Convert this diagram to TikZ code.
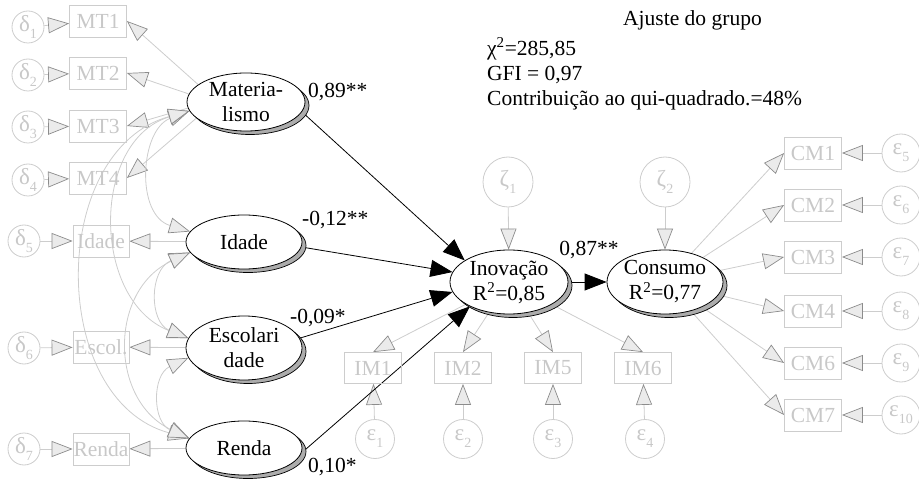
\documentclass[tikz,border=0pt]{standalone}
\usepackage{fontspec}
\setmainfont{Liberation Serif}
\usetikzlibrary{arrows.meta,shapes.geometric,shadows,backgrounds}
\definecolor{lg}{HTML}{CDCDCD}
\definecolor{lgt}{HTML}{C8C8C8}
\definecolor{afill}{HTML}{EBEBEB}
\definecolor{abord}{HTML}{8C8C8C}
\newcommand\grk[2]{#1\raisebox{-0.3em}{\fontsize{14}{14}\selectfont #2}}
\begin{document}
\begin{tikzpicture}[x=1pt,y=-1pt,
  every node/.style={font=\fontsize{21.5}{25}\selectfont},
  GT/.tip={Triangle[length=21pt,width=16pt,fill=afill,color=abord,line width=0.7pt]},
  BT/.tip={Triangle[length=22pt,width=17pt]},
  obs/.style={draw=lg,line width=0.8pt,rectangle,minimum width=57pt,minimum height=32pt,inner sep=0pt,text=lgt},
  err/.style={draw=lg,line width=0.8pt,circle,minimum size=#1,inner sep=0pt,text=lgt,font=\fontsize{23}{23}\selectfont},
  lat/.style 2 args={ellipse,draw=black,line width=0.8pt,fill=white,minimum width=#1,minimum height=#2,inner sep=0pt,
     drop shadow={shadow xshift=4pt,shadow yshift=-3.5pt,fill=gray!65,draw=black,opacity=1,line width=0.7pt}},
  lbl/.style={align=center,text=black},
  coef/.style={text=black,inner sep=0pt},
  gline/.style={draw=lg,line width=0.8pt},
  bline/.style={draw=black,line width=0.8pt},
]
\useasboundingbox (0,0) rectangle (919,489);

% latent variables
\node[lat={118pt}{58pt},label={[lbl]center:{Materia-\\lismo}}] (mat) at (246,102) {};
\node[lat={116pt}{54pt},label={[lbl]center:{Idade}}] (idade) at (244,242) {};
\node[lat={116pt}{64pt},label={[lbl]center:{Escolari\\dade}}] (escol) at (244,348) {};
\node[lat={116pt}{54pt},label={[lbl]center:{Renda}}] (renda) at (244,448) {};
\node[lat={118pt}{64pt},label={[lbl]center:{Inovação\\R\textsuperscript{2}=0,85}}] (inov) at (509,282) {};
\node[lat={116pt}{64pt},label={[lbl]center:{Consumo\\R\textsuperscript{2}=0,77}}] (cons) at (665,282) {};

% left observed
\node[obs] (mt1) at (98,21) {MT1};
\node[obs] (mt2) at (98,73) {MT2};
\node[obs] (mt3) at (98,126) {MT3};
\node[obs] (mt4) at (98,178) {MT4};
\node[obs,minimum width=56pt] (idb) at (101,241) {Idade};
\node[obs,minimum width=56pt] (esb) at (101,347) {Escol.};
\node[obs,minimum width=56pt] (reb) at (101,449) {Renda};

\node[err=32pt] (d1) at (28,27) {\grk{δ}{1}};
\node[err=32pt] (d2) at (28,75) {\grk{δ}{2}};
\node[err=32pt] (d3) at (28,127) {\grk{δ}{3}};
\node[err=32pt] (d4) at (28,180) {\grk{δ}{4}};
\node[err=32pt] (d5) at (24,241) {\grk{δ}{5}};
\node[err=32pt] (d6) at (24,348) {\grk{δ}{6}};
\node[err=32pt] (d7) at (24,449) {\grk{δ}{7}};

% IM
\node[obs,minimum height=31pt] (im1) at (373,368) {IM1};
\node[obs,minimum height=31pt] (im2) at (463,368) {IM2};
\node[obs,minimum height=31pt] (im5) at (553,368) {IM5};
\node[obs,minimum height=31pt] (im6) at (643,368) {IM6};
\node[err=39pt] (e1) at (375,439) {\grk{ε}{1}};
\node[err=39pt] (e2) at (463,439) {\grk{ε}{2}};
\node[err=39pt] (e3) at (553,439) {\grk{ε}{3}};
\node[err=39pt] (e4) at (645,439) {\grk{ε}{4}};

\node[err=50pt] (z1) at (508,182) {\grk{ζ}{1}};
\node[err=50pt] (z2) at (665,182) {\grk{ζ}{2}};

% CM
\node[obs] (cm1) at (813,153) {CM1};
\node[obs] (cm2) at (813,205) {CM2};
\node[obs] (cm3) at (813,257) {CM3};
\node[obs] (cm4) at (813,311) {CM4};
\node[obs] (cm6) at (813,363) {CM6};
\node[obs] (cm7) at (813,415) {CM7};
\node[err=38pt] (e5) at (901,153) {\grk{ε}{5}};
\node[err=38pt] (e6) at (901,205) {\grk{ε}{6}};
\node[err=38pt] (e7) at (901,257) {\grk{ε}{7}};
\node[err=38pt] (e8) at (901,311) {\grk{ε}{8}};
\node[err=38pt] (e9) at (901,363) {\grk{ε}{9}};
\node[err=38pt] (e10) at (901,415) {\grk{ε}{10}};

% coefficients
\node[coef,anchor=west] (c1) at (308,92) {0,89**};
\node[coef,anchor=west] (c2) at (302,220) {-0,12**};
\node[coef,anchor=west] (c3) at (290,318) {-0,09*};
\node[coef,anchor=west] (c4) at (308,467) {0,10*};
\node[coef] (c5) at (589,250) {0,87**};

% fit
\node[coef,anchor=west] (fit) at (623,20) {Ajuste do grupo};
\node[coef,anchor=west,align=left] (fitv) at (487,74) {χ\textsuperscript{2}=285,85\\GFI = 0,97\\Contribuição ao qui-quadrado.=48\%};

\begin{pgfonlayer}{background}
% delta -> boxes
\foreach \d/\b in {d1/mt1,d2/mt2,d3/mt3,d4/mt4,d5/idb,d6/esb,d7/reb}
  \draw[gline,-GT] (\d) -- (\b);
% Mat -> MT
\draw[gline,-GT] (mat.160) -- (mt1.east);
\draw[gline,-GT] (mat.172) -- (mt2.east);
\draw[gline,-GT] (mat.186) -- (mt3.east);
\draw[gline,-GT] (mat.198) -- (mt4.east);
\draw[gline,-GT] (idade) -- (idb);
\draw[gline,-GT] (escol) -- (esb);
\draw[gline,-GT] (renda) -- (reb);
% correlations
\draw[gline,GT-GT] (mat.189) .. controls (140,130) and (135,215) .. (idade.169);
\draw[gline,GT-GT] (mat.189) .. controls (91,140) and (91,300) .. (escol.170);
\draw[gline,GT-GT] (mat.189) .. controls (48,150) and (48,400) .. (renda.170);
\draw[gline,GT-GT] (idade.191) .. controls (149,270) and (149,322) .. (escol.170);
\draw[gline,GT-GT] (idade.191) .. controls (109,290) and (109,400) .. (renda.170);
\draw[gline,GT-GT] (escol.190) .. controls (152,375) and (152,422) .. (renda.170);
% zeta
\draw[gline,-GT] (z1) -- (inov);
\draw[gline,-GT] (z2) -- (cons);
% Inov -> IM
\foreach \b in {im1,im2,im5,im6}
  \draw[gline,-GT] (inov) -- (\b.north);
\draw[gline,-GT] (e1) -- (im1);
\draw[gline,-GT] (e2) -- (im2);
\draw[gline,-GT] (e3) -- (im5);
\draw[gline,-GT] (e4) -- (im6);
% Cons -> CM
\foreach \b/\e in {cm1/e5,cm2/e6,cm3/e7,cm4/e8,cm6/e9,cm7/e10}{
  \draw[gline,-GT] (cons) -- (\b.west);
  \draw[gline,-GT] (\e) -- (\b);
}
% structural paths
\draw[bline,-BT] (mat.-10) -- (inov.154);
\draw[bline,-BT] (idade.-5) -- (inov.170);
\draw[bline,-BT] (escol.10) -- (inov.190);
\draw[bline,-BT] (renda.-5) -- (inov.212);
\draw[bline,-BT] (inov) -- (cons);
\end{pgfonlayer}
\end{tikzpicture}
\end{document}
